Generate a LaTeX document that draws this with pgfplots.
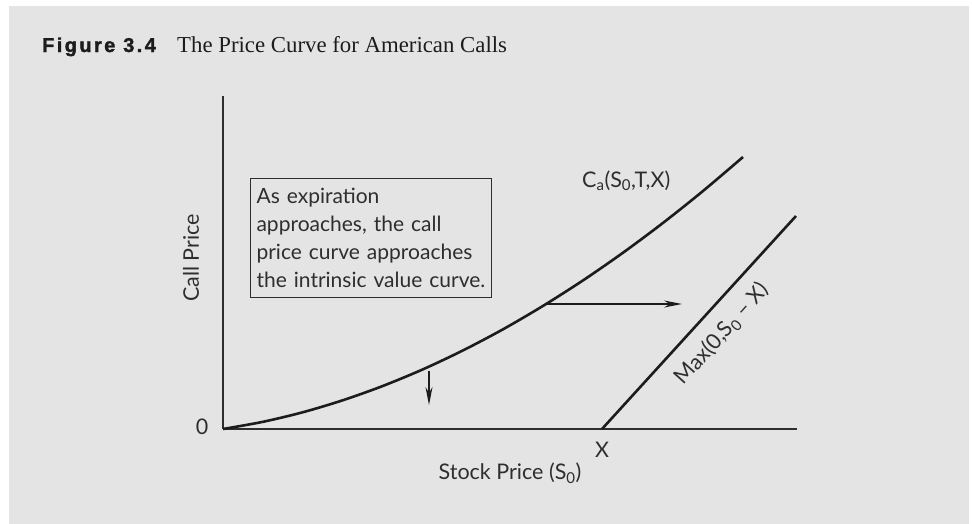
\documentclass[border=0pt]{standalone}
\usepackage{pgfplots}
\pgfplotsset{compat=1.18}
\usetikzlibrary{arrows.meta}
\usepackage{fontspec}
\setmainfont{Lato}
\newfontfamily\seriffont{Liberation Serif}
\newfontfamily\figfont{Liberation Sans}[LetterSpace=12, BoldFeatures={FakeBold=1.6}]
\definecolor{bgray}{HTML}{E4E4E4}
\definecolor{ink}{HTML}{1C1C1C}
\definecolor{txt}{HTML}{2E2E2E}
\newcommand{\lab}{\fontsize{21.5bp}{28bp}\selectfont}
\newcommand{\boxlab}{\fontsize{21bp}{28bp}\selectfont}
\begin{document}
\begin{tikzpicture}
\fill[white] (0,0) rectangle (972bp,-524bp);
\fill[bgray] (9bp,-6bp) rectangle (969bp,-524bp);
% title
\node[anchor=base west, inner sep=0pt, text=ink] at (42bp,-52bp) {\figfont\bfseries\fontsize{20bp}{22bp}\selectfont Figure 3.4};
\node[anchor=base west, inner sep=0pt, text=ink] at (177bp,-52bp) {\seriffont\fontsize{22.8bp}{24bp}\selectfont The Price Curve for American Calls};
\begin{axis}[
  at={(223bp,-429bp)}, anchor=origin,
  x=1bp, y=1bp,
  xmin=0, xmax=574, ymin=0, ymax=333,
  axis lines=left,
  axis line style={-, line width=1.3bp, color=txt},
  ticks=none,
  clip=false,
]
% call price curve
\addplot[smooth, line width=2.6bp, color=ink] coordinates {
(0,0) (40,7.2) (80,16.8) (120,28.8) (160,43.1) (200,59.7) (240,78.6) (280,99.7) (320,123.1) (360,148.6) (400,176.3) (440,206.1) (480,238.0) (520,272.0)
};
% intrinsic value
\addplot[line width=2.6bp, color=ink] coordinates {(379,0) (573,213)};
% arrows
\addplot[line width=1.1bp, color=ink, -{Stealth[length=18bp,width=7bp]}] coordinates {(324,125) (459,125)};
\addplot[line width=1.1bp, color=ink, -{Stealth[length=18bp,width=7bp]}] coordinates {(206,58) (206,24)};
\end{axis}
% labels
\node[text=txt, inner sep=0pt, font=\lab] at (202bp,-427bp) {0};
\node[text=txt, inner sep=0pt, font=\lab] at (602bp,-450bp) {X};
\node[text=txt, inner sep=0pt, font=\lab] at (510bp,-473bp) {Stock Price (S\textsubscript{0})};
\node[text=txt, inner sep=0pt, rotate=90, font=\lab] at (191bp,-258bp) {Call Price};
\node[text=txt, anchor=base west, inner sep=0pt, font=\lab] at (582bp,-187bp) {C\textsubscript{a}(S\textsubscript{0},T,X)};
\node[text=txt, inner sep=0pt, rotate=48, font=\lab] at (722bp,-334bp) {Max(0,S\textsubscript{0} -- X)};
% text box
\node[draw=txt, line width=1.1bp, anchor=north west, text=txt, align=left, font=\boxlab, text width=229bp, inner xsep=6bp, inner ysep=6bp, minimum height=119bp] at (250bp,-178bp)
{As expiration\\approaches, the call\\price curve approaches\\the intrinsic value curve.};
\end{tikzpicture}
\end{document}
